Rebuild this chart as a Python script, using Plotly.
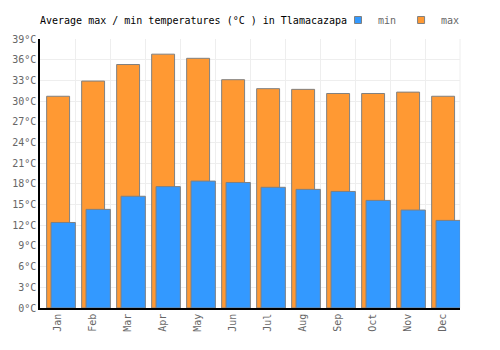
import plotly.graph_objects as go

months = ["Jan", "Feb", "Mar", "Apr", "May", "Jun", "Jul", "Aug", "Sep", "Oct", "Nov", "Dec"]
max_temps = [30.7, 32.9, 35.3, 36.8, 36.2, 33.1, 31.8, 31.7, 31.1, 31.1, 31.3, 30.7]
min_temps = [12.4, 14.3, 16.2, 17.6, 18.4, 18.2, 17.5, 17.2, 16.9, 15.6, 14.2, 12.7]
y_ticks = list(range(0, 40, 3))
y_labels = [f"{v}°C" for v in y_ticks]

font = "DejaVu Sans Mono"
c_max = "#FF9933"
c_min = "#3399FF"
c_edge = "#808080"

fig = go.Figure()
fig.add_trace(go.Bar(
    x=months, y=max_temps, name="max", showlegend=False,
    marker=dict(color=c_max, line=dict(color=c_edge, width=1)),
    offset=-0.31, width=0.655,
))
fig.add_trace(go.Bar(
    x=months, y=min_temps, name="min", showlegend=False,
    marker=dict(color=c_min, line=dict(color=c_edge, width=1)),
    offset=-0.185, width=0.695,
))
# legend entries
fig.add_trace(go.Scatter(x=[None], y=[None], mode="markers", name="min",
                         marker=dict(symbol="square", size=7, color=c_min,
                                     line=dict(color=c_edge, width=1))))
fig.add_trace(go.Scatter(x=[None], y=[None], mode="markers", name="max",
                         marker=dict(symbol="square", size=7, color=c_max,
                                     line=dict(color=c_edge, width=1))))

fig.update_layout(
    width=500, height=350,
    margin=dict(l=40, r=40, t=39, b=42, autoexpand=False),
    barmode="overlay",
    plot_bgcolor="white", paper_bgcolor="white",
    font=dict(family=font, size=10, color="#666666"),
    title=dict(text="Average max / min temperatures (°C ) in Tlamacazapa",
               x=40/500, xanchor="left", y=1-20/350, yanchor="middle",
               font=dict(family=font, size=10, color="#000000")),
    legend=dict(orientation="h", traceorder="normal",
                x=465/500, xanchor="right", y=1-20/350, yanchor="middle",
                xref="container", yref="container",
                font=dict(family=font, size=10, color="#666666"),
                itemwidth=30, bgcolor="rgba(0,0,0,0)"),
    showlegend=True,
)
fig.update_xaxes(
    type="category", range=[-0.5, 11.5], tickangle=-90,
    showgrid=True, gridcolor="#eeeeee", gridwidth=1, tickson="boundaries",
    showline=True, linecolor="#000000", linewidth=1.5,
    ticks="", tickfont=dict(family=font, size=10, color="#666666"),
)
fig.update_yaxes(
    range=[0, 39], tickvals=y_ticks, ticktext=y_labels,
    showgrid=True, gridcolor="#eeeeee", gridwidth=1,
    showline=True, linecolor="#000000", linewidth=1.5,
    zeroline=False, ticks="",
    tickfont=dict(family=font, size=10, color="#666666"),
)
fig.add_shape(type="line", xref="paper", yref="paper", x0=1, x1=1, y0=0, y1=1,
              line=dict(color="#eeeeee", width=1), layer="below")

fig.write_html("out.html")
